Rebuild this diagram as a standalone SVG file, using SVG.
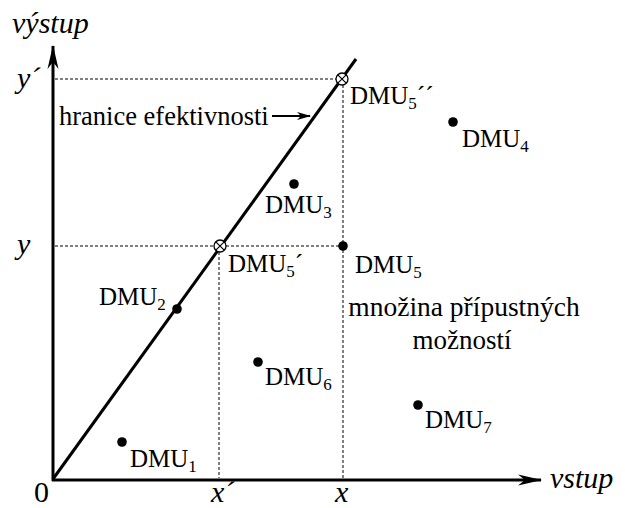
<svg xmlns="http://www.w3.org/2000/svg" width="625" height="508" viewBox="0 0 625 508">
<style>
.ax{stroke:#000;stroke-width:3;fill:none}
.dot{stroke:#000;stroke-width:1;stroke-dasharray:3,2;fill:none}
.t{font-family:'Liberation Serif','DejaVu Serif',serif;fill:#000}
.it{font-style:italic;font-size:30px}
.dmu{font-size:25px}
.sub{font-size:17px}
.pt{fill:#000}
.ox{fill:#fff;stroke:#000;stroke-width:1.3}
</style>
<defs>
<marker id="ah" viewBox="0 0 24 12" refX="23" refY="6" markerWidth="24" markerHeight="12" markerUnits="userSpaceOnUse" orient="auto">
<path d="M24,6 L0,0.5 L7,6 L0,11.5 Z" fill="#000"/>
</marker>
<marker id="ah2" viewBox="0 0 14 10" refX="13" refY="5" markerWidth="14" markerHeight="10" markerUnits="userSpaceOnUse" orient="auto">
<path d="M14,5 L0,1 L4,5 L0,9 Z" fill="#000"/>
</marker>
</defs>
<g id="connectors">
<line class="dot" x1="55" y1="79" x2="336" y2="79"/>
<line class="dot" x1="343" y1="85" x2="343" y2="478"/>
<line class="dot" x1="55" y1="246" x2="214" y2="246"/>
<line class="dot" x1="226" y1="246" x2="343" y2="246"/>
<line class="dot" x1="219" y1="252" x2="219" y2="478"/>
<line class="ax" x1="53" y1="481" x2="53" y2="46" marker-end="url(#ah)"/>
<line class="ax" x1="52" y1="480" x2="541" y2="480" marker-end="url(#ah)"/>
<line class="ax" x1="53" y1="479" x2="356" y2="59"/>
<line x1="272" y1="116" x2="310" y2="116" stroke="#000" stroke-width="2" marker-end="url(#ah2)"/>
</g>
<g id="axis-labels">
<text class="t it" x="12" y="33">výstup</text>
<text class="t it" x="550" y="488">vstup</text>
<text class="t it" x="17" y="88">y´</text>
<text class="t it" x="17" y="254">y</text>
<text class="t" x="34" y="502" font-size="30">0</text>
<text class="t it" x="211" y="502">x´</text>
<text class="t it" x="335" y="502">x</text>
</g>
<g id="frontier-label">
<text class="t" x="59" y="125" font-size="26.5">hranice efektivnosti</text>
</g>
<g id="feasible-label">
<text class="t" x="464" y="316" font-size="27.5" text-anchor="middle">množina přípustných</text>
<text class="t" x="462" y="349" font-size="27" text-anchor="middle">možností</text>
</g>
<g id="DMU1"><circle class="pt" cx="122" cy="442" r="4.8"/><text class="t dmu" x="130" y="467">DMU<tspan class="sub" dy="5">1</tspan></text></g>
<g id="DMU2"><circle class="pt" cx="177" cy="309" r="4.8"/><text class="t dmu" x="99" y="305">DMU<tspan class="sub" dy="5">2</tspan></text></g>
<g id="DMU3"><circle class="pt" cx="294" cy="184" r="4.8"/><text class="t dmu" x="265" y="213">DMU<tspan class="sub" dy="5">3</tspan></text></g>
<g id="DMU4"><circle class="pt" cx="453" cy="122" r="4.8"/><text class="t dmu" x="462" y="147">DMU<tspan class="sub" dy="5">4</tspan></text></g>
<g id="DMU5"><circle class="pt" cx="343" cy="246" r="4.8"/><text class="t dmu" x="355" y="273">DMU<tspan class="sub" dy="5">5</tspan></text></g>
<g id="DMU5p"><circle class="ox" cx="220" cy="246" r="6"/><path d="M215.8,241.8 L224.2,250.2 M224.2,241.8 L215.8,250.2" stroke="#000" stroke-width="1.2"/><text class="t dmu" x="228" y="272">DMU<tspan class="sub" dy="5">5</tspan><tspan dy="-5">´</tspan></text></g>
<g id="DMU5pp"><circle class="ox" cx="342" cy="79" r="6"/><path d="M337.8,74.8 L346.2,83.2 M346.2,74.8 L337.8,83.2" stroke="#000" stroke-width="1.2"/><text class="t dmu" x="350" y="104">DMU<tspan class="sub" dy="5">5</tspan><tspan dy="-5">´´</tspan></text></g>
<g id="DMU6"><circle class="pt" cx="258" cy="362" r="4.8"/><text class="t dmu" x="265" y="385">DMU<tspan class="sub" dy="5">6</tspan></text></g>
<g id="DMU7"><circle class="pt" cx="418" cy="405" r="4.8"/><text class="t dmu" x="425" y="428">DMU<tspan class="sub" dy="5">7</tspan></text></g>
</svg>
